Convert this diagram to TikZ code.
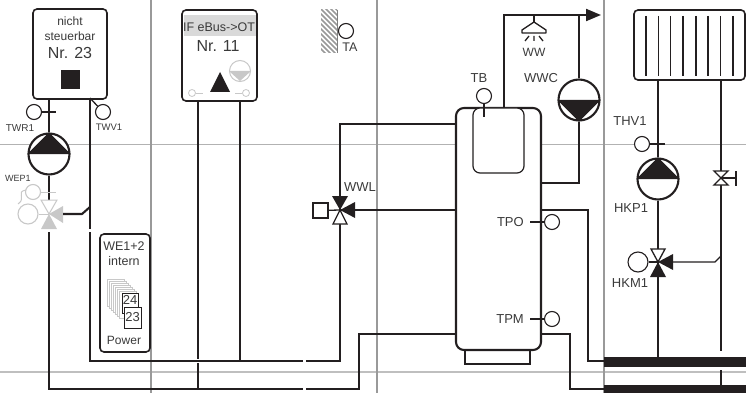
\documentclass[tikz,border=0pt]{standalone}
\usepackage{fontspec}
\setmainfont{Liberation Sans}
\usetikzlibrary{positioning,arrows.meta}
\definecolor{ink}{HTML}{231F20}
\definecolor{txt}{HTML}{3A3A3A}
\definecolor{faded}{HTML}{C8C8C8}
\newcommand{\fs}[1]{\fontsize{#1}{#1}\selectfont}
\tikzset{
    pipe/.style={draw=ink,line width=2.1pt},
    thin pipe/.style={draw=ink,line width=1.3pt},
    box/.style={rectangle,draw=ink,line width=1.6pt,rounded corners=4pt,fill=white,inner sep=0pt},
    sensor/.style={circle,draw=ink,line width=1.1pt,fill=white,minimum size=15pt,inner sep=0pt},
    pump/.style={circle,draw=ink,line width=2.1pt,fill=white,minimum size=41pt,inner sep=0pt},
    lab/.style={text=txt,inner sep=0pt,font=\fs{13}},
    small lab/.style={text=txt,inner sep=0pt,font=\fs{9.5}},
}
\begin{document}
\begin{tikzpicture}[x=1pt,y=-1pt]
\useasboundingbox (0,0) rectangle (746,393);
% grid
\draw[gray!60,line width=.9pt] (0,144) -- (746,144);
\draw[gray!50,line width=1.2pt] (0,372) -- (746,372);
\draw[gray!80,line width=1.5pt] (151,0) -- (151,393) (377,0) -- (377,393) (604,0) -- (604,393);

% boxes
\node[box,minimum width=74pt,minimum height=90pt] (box1) at (70,54) {};
\node[box,minimum width=75pt,minimum height=91pt] (box2) at (219.5,55.5) {};
\node[box,minimum width=50pt,minimum height=118pt] (box3) at (125,293) {};
\node[box,minimum width=111pt,minimum height=70pt] (rad) at (689.5,45) {};
\node[box,minimum width=65pt,minimum height=16pt,rounded corners=0pt] (base) at (497.5,356) {};
\node[box,minimum width=85pt,minimum height=242pt,line width=2.1pt,rounded corners=8pt] (tank) at (498.5,229) {};
\node[box,minimum width=51pt,minimum height=65pt,line width=1.2pt,rounded corners=7pt] (coil) at (498.5,140.5) {};

% box 1
\node[lab,font=\fs{12}] (t1a) at (70,21.5) {nicht};
\node[lab,font=\fs{12}] (t1b) [below=5pt of t1a] {steuerbar};
\node[lab,font=\fs{16}] (t1c) at (70,53) {Nr. 23};
\node[fill=ink,minimum size=19pt,inner sep=0pt] (sq) at (70,79.5) {};

% box 2
\fill[gray!30] (184,15) rectangle (255.5,36);
\node[lab,font=\fs{12.5}] (t2a) at (219,27) {IF eBus->OT};
\node[lab,font=\fs{16}] (t2b) at (218,46) {Nr. 11};
\fill[ink] (220,72) -- (230,92) -- (210,92) -- cycle;
\node[circle,draw=faded,line width=1pt,minimum size=21pt,inner sep=0pt] (ot) at (240,71) {};
\fill[faded] (ot.west) -- (ot.east) -- (240,81) -- cycle;
\node[circle,draw=faded,line width=.8pt,minimum size=7pt,inner sep=0pt] (ot1) at (192,93) {};
\node[circle,draw=faded,line width=.8pt,minimum size=7pt,inner sep=0pt] (ot2) at (246,93) {};
\coordinate (ot1e) at (203,93);
\coordinate (ot2e) at (235,93);
\draw[faded,line width=.8pt] (ot1) -- (ot1e) (ot2) -- (ot2e);

% box 3
\node[lab,font=\fs{12.5}] (t3a) at (124,246) {WE1+2};
\node[lab,font=\fs{12.5}] (t3b) [below=6pt of t3a] {intern};
\node[lab,font=\fs{12}] (t3c) at (124,340) {Power};
\foreach \i in {0,...,6}
    \draw[faded,fill=white,line width=.7pt] (107+2*\i,279+2*\i) rectangle ++(17,27);
\node[rectangle,draw=ink,fill=white,line width=.8pt,minimum width=16pt,minimum height=20pt,inner sep=0pt] (r24) at (130,303) {};
\node[lab] (n24) at (130,300) {24};
\node[rectangle,draw=ink,fill=white,line width=.8pt,minimum width=17pt,minimum height=21pt,inner sep=0pt,text=txt,font=\fs{13}] (r23) at (132.5,317.5) {23};

% TA
\begin{scope}
    \clip (321,10) rectangle (337,53);
    \foreach \y in {-8,-3,...,57}
        \draw[gray!80,line width=1.7pt] (319,\y) -- (339,\y+20);
\end{scope}
\draw[gray,line width=.8pt] (337,10) -- (337,53);
\node[sensor] (sta) at (346,31) {};
\node[lab,font=\fs{12.5}] (ta) [below=4pt of sta,xshift=4pt] {TA};

% left branch
\coordinate (a1) at (49,99);
\coordinate (a2) at (49,200);
\coordinate (a3) at (49,232);
\coordinate (a4) at (90,98);
\coordinate (a5) at (90,229);
\coordinate (a6) at (90,232);
\coordinate (a7) at (303,361);
\coordinate (a8) at (306,361);
\coordinate (a9) at (303,389);
\coordinate (a10) at (306,389);
\node[pump] (wep) at (49,154) {};
\fill[ink] (wep.west) -- (wep.north) -- (wep.east) -- cycle;
\draw[pipe] (a1) -- (wep.north) (wep.south) -- (a2);
\draw[pipe] (a4) -- (a5) (a6) |- (a7);
\draw[pipe] (a3) |- (a9);

% faded valve WEP1
\coordinate (wev) at (49,214);
\node[sensor,draw=faded,fill=none] (swe) at (33,192) {};
\node[sensor,draw=faded,fill=none,minimum size=20pt] (swf) at (28,214) {};
\coordinate (swt) at (56,192);
\draw[faded,line width=1pt] (swe) -- (swt);
\draw[faded,line width=1pt] (swf) -- (wev);
\draw[faded,line width=1pt] (26,190) .. controls (15,192) and (27,198) .. (18,204);
\draw[faded,fill=white,line width=1pt,shift={(wev)}] (-8,-14) -- (8,-14) -- (0,0) -- cycle;
\fill[faded,shift={(wev)}] (-8,15) -- (8,15) -- (0,0) -- cycle;
\fill[faded,shift={(wev)}] (14,-8) -- (14,9) -- (0,0) -- cycle;
\coordinate (wer) at (63,214);
\coordinate (wek) at (82,214);
\coordinate (wej) at (90,207);
\draw[pipe] (wer) -- (wek) -- (wej);

% sensors left
\node[sensor] (stwr) at (34,112) {};
\node[sensor] (stwv) at (103,112) {};
\coordinate (twrt) at (56,112);
\draw[thin pipe] (stwr) -- (twrt);
\draw[thin pipe] (stwv) -- (a4);
\node[small lab,font=\fs{10}] (twr1) [below=4pt of stwr,xshift=-14pt] {TWR1};
\node[small lab] (twv1) [below=4pt of stwv,xshift=6pt] {TWV1};
\node[small lab,font=\fs{9}] (wep1) at (18,178) {WEP1};

% middle pipes
\coordinate (b1) at (198,359);
\coordinate (b2) at (198,363);
\coordinate (b3) at (198,389);
\coordinate (b4) at (240,361);
\coordinate (hi) at (tank.west |- 0,124);
\coordinate (mid) at (tank.west |- 0,210);
\coordinate (lo) at (tank.west |- 0,334);
\coordinate (wwl) at (340,210);
\coordinate (c1) at (359,334);
\draw[pipe] (198,101) -- (b1) (b2) -- (b3);
\draw[pipe] (240,101) -- (b4);
\draw[pipe] (a8) -| (wwl);
\draw[pipe] (wwl) |- (hi);
\draw[pipe] (wwl) -- (mid);
\draw[pipe] (a10) -| (c1) -- (lo);

% valve WWL
\node[rectangle,draw=ink,line width=1.1pt,fill=white,minimum size=15pt,inner sep=0pt] (wwq) at (320.5,210.5) {};
\draw[thin pipe] (wwq) -- (wwl);
\fill[ink,shift={(wwl)}] (-8,-14) -- (8,-14) -- (0,0) -- cycle;
\draw[draw=ink,fill=white,line width=1.3pt,shift={(wwl)}] (-7,14) -- (7,14) -- (0,0) -- cycle;
\fill[ink,shift={(wwl)}] (15,-8) -- (15,8) -- (0,0) -- cycle;
\node[lab] (wwlt) at (360,187) {WWL};

% tank sensors
\node[sensor] (stb) at (484,96) {};
\coordinate (stbe) at (484,117);
\draw[thin pipe] (stb) -- (stbe);
\node[lab] (tb) [above=5pt of stb,xshift=-5pt] {TB};
\node[sensor] (stpo) at (552,222) {};
\node[sensor] (stpm) at (552,319) {};
\coordinate (tpoe) at (530,222);
\coordinate (tpme) at (530,319);
\draw[thin pipe] (stpo) -- (tpoe);
\draw[thin pipe] (stpm) -- (tpme);
\node[lab] (tpo) [left=20pt of stpo] {TPO};
\node[lab] (tpm) [left=20pt of stpm] {TPM};

% hot water
\coordinate (d1) at (504,108);
\coordinate (d2) at (504,15);
\coordinate (d3) at (601,15);
\coordinate (d4) at (579,15);
\coordinate (d5) at (541,183);
\node[pump] (wwc) at (579,100) {};
\fill[ink] (wwc.west) -- (wwc.east) -- (wwc.south) -- cycle;
\draw[pipe,-{Triangle[length=15pt,width=12pt]}] (d1) -- (d2) -- (d3);
\draw[pipe] (d4) -- (wwc.north);
\draw[pipe] (wwc.south) |- (d5);
\node[lab] (wwct) at (541,78) {WWC};
\coordinate (sh) at (534,22);
\draw[thin pipe] (534,15) -- (sh);
\draw[draw=ink,line width=1.3pt,fill=white,line join=round] (sh) -- (546,30) -- (546,33) -- (522,33) -- (522,30) -- cycle;
\draw[thin pipe] (525,41) -- (529,36) (534,41) -- (534,36) (543,41) -- (539,36);
\node[lab,font=\fs{12}] (wwt) at (534,52) {WW};

% bars
\node[fill=ink,minimum width=142pt,minimum height=9.5pt,inner sep=0pt,anchor=north west] (bar1) at (604,357) {};
\node[fill=ink,minimum width=142pt,minimum height=8pt,inner sep=0pt,anchor=north west] (bar2) at (604,385) {};
\coordinate (e1) at (bar1.west |- 0,361);
\coordinate (e2) at (bar2.west |- 0,389);
\coordinate (e3) at (541,210);
\coordinate (e4) at (541,334);
\coordinate (e5) at (588,361);
\coordinate (e6) at (570,389);
\draw[pipe] (e3) -| (e5) -- (e1);
\draw[pipe] (e4) -| (e6) -- (e2);

% radiator
\foreach \x in {646,658.5,670.5,683,696,708,720.5,733}
    \draw[ink,line width=1.2pt] (\x,16) -- (\x,76);
\coordinate (f1) at (658,80);
\coordinate (f2) at (721,80);
\coordinate (hkm) at (658,262);
\coordinate (thb) at (721,178);
\coordinate (f3) at (721,351);
\coordinate (f4) at (721,370);
\coordinate (f5) at (721,385);
\coordinate (f6) at (658,357);
\node[pump] (hkp) at (658,179) {};
\fill[ink] (hkp.west) -- (hkp.north) -- (hkp.east) -- cycle;
\draw[pipe] (f1) -- (hkp.north);
\draw[pipe] (hkp.south) -- (hkm) -- (f6);
\draw[pipe] (f2) -- (f3) (f4) -- (f5);

% THV1
\node[sensor] (sthv) at (642,144) {};
\coordinate (thve) at (665,144);
\draw[thin pipe] (sthv) -- (thve);
\node[lab] (thv1) [above=10pt of sthv,xshift=-12pt] {THV1};
\node[lab] (hkp1) at (631,208) {HKP1};

% stop valve
\draw[draw=ink,fill=white,line width=1.3pt,shift={(thb)}] (-7,-7) -- (7,-7) -- (0,0) -- cycle;
\draw[draw=ink,fill=white,line width=1.3pt,shift={(thb)}] (-7,7) -- (7,7) -- (0,0) -- cycle;
\coordinate (thh) at (736,178);
\coordinate (thh1) at (736,171);
\coordinate (thh2) at (736,186);
\draw[thin pipe] (thb) -- (thh);
\draw[pipe] (thh1) -- (thh2);

% valve HKM1
\node[sensor,minimum size=20pt] (shkm) at (638,262) {};
\draw[thin pipe] (shkm) -- (hkm);
\draw[draw=ink,fill=white,line width=1.3pt,shift={(hkm)}] (-7,-13) -- (7,-13) -- (0,0) -- cycle;
\fill[ink,shift={(hkm)}] (-8,15) -- (8,15) -- (0,0) -- cycle;
\fill[ink,shift={(hkm)}] (15,-8) -- (15,8) -- (0,0) -- cycle;
\coordinate (g1) at (673,262);
\coordinate (g2) at (715,262);
\coordinate (g3) at (721,256);
\draw[thin pipe] (g1) -- (g2) -- (g3);
\node[lab] (hkm1) at (630,283) {HKM1};
\end{tikzpicture}
\end{document}
